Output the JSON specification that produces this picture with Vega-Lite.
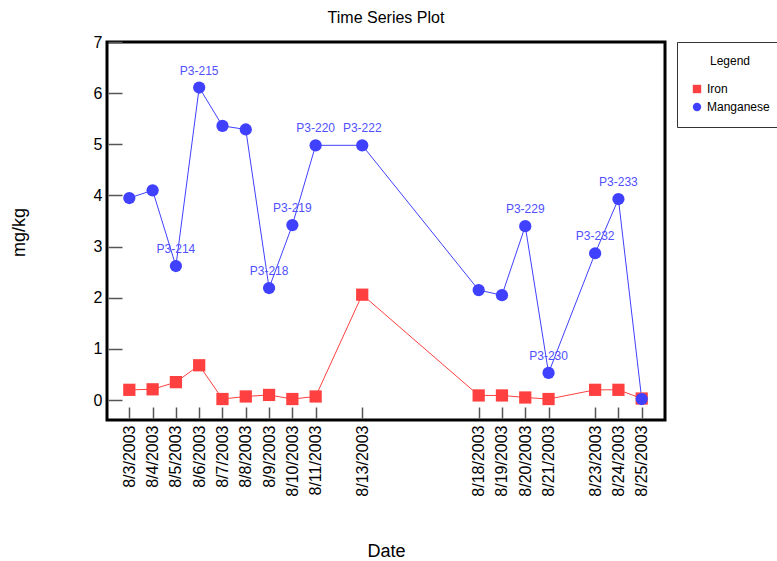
{
  "$schema": "https://vega.github.io/schema/vega-lite/v6.json",
  "autosize": "none",
  "width": 558,
  "height": 378,
  "padding": {"left": 107, "top": 42, "right": 112, "bottom": 141},
  "background": "white",
  "title": {"text": "Time Series Plot", "fontSize": 16, "font": "Liberation Sans", "fontWeight": "normal", "color": "#000", "anchor": "middle", "offset": 8},
  "config": {
    "view": {"stroke": "#000", "strokeWidth": 3},
    "font": "Liberation Sans",
    "axis": {"grid": false, "domain": false, "labelFont": "Liberation Sans", "titleFont": "Liberation Sans", "labelColor": "#000", "titleColor": "#000", "titleFontWeight": "normal", "tickColor": "#555", "tickWidth": 1.5}
  },
  "data": {
    "values": [
      {"date": "2003-08-03", "element": "Iron", "value": 0.2},
      {"date": "2003-08-04", "element": "Iron", "value": 0.21},
      {"date": "2003-08-05", "element": "Iron", "value": 0.35},
      {"date": "2003-08-06", "element": "Iron", "value": 0.68},
      {"date": "2003-08-07", "element": "Iron", "value": 0.02},
      {"date": "2003-08-08", "element": "Iron", "value": 0.07},
      {"date": "2003-08-09", "element": "Iron", "value": 0.1},
      {"date": "2003-08-10", "element": "Iron", "value": 0.02},
      {"date": "2003-08-11", "element": "Iron", "value": 0.07},
      {"date": "2003-08-13", "element": "Iron", "value": 2.06},
      {"date": "2003-08-18", "element": "Iron", "value": 0.09},
      {"date": "2003-08-19", "element": "Iron", "value": 0.09},
      {"date": "2003-08-20", "element": "Iron", "value": 0.05},
      {"date": "2003-08-21", "element": "Iron", "value": 0.02},
      {"date": "2003-08-23", "element": "Iron", "value": 0.2},
      {"date": "2003-08-24", "element": "Iron", "value": 0.2},
      {"date": "2003-08-25", "element": "Iron", "value": 0.03},
      {"date": "2003-08-03", "element": "Manganese", "value": 3.95},
      {"date": "2003-08-04", "element": "Manganese", "value": 4.1},
      {"date": "2003-08-05", "element": "Manganese", "value": 2.62, "label": "P3-214"},
      {"date": "2003-08-06", "element": "Manganese", "value": 6.11, "label": "P3-215"},
      {"date": "2003-08-07", "element": "Manganese", "value": 5.36},
      {"date": "2003-08-08", "element": "Manganese", "value": 5.29},
      {"date": "2003-08-09", "element": "Manganese", "value": 2.19, "label": "P3-218"},
      {"date": "2003-08-10", "element": "Manganese", "value": 3.42, "label": "P3-219"},
      {"date": "2003-08-11", "element": "Manganese", "value": 4.98, "label": "P3-220"},
      {"date": "2003-08-13", "element": "Manganese", "value": 4.98, "label": "P3-222"},
      {"date": "2003-08-18", "element": "Manganese", "value": 2.15},
      {"date": "2003-08-19", "element": "Manganese", "value": 2.05},
      {"date": "2003-08-20", "element": "Manganese", "value": 3.4, "label": "P3-229"},
      {"date": "2003-08-21", "element": "Manganese", "value": 0.53, "label": "P3-230"},
      {"date": "2003-08-23", "element": "Manganese", "value": 2.87, "label": "P3-232"},
      {"date": "2003-08-24", "element": "Manganese", "value": 3.93, "label": "P3-233"},
      {"date": "2003-08-25", "element": "Manganese", "value": 0.02}
    ]
  },
  "encoding": {
    "x": {
      "field": "date", "type": "temporal",
      "scale": {"type": "utc", "domain": [{"year": 2003, "month": 8, "date": 2, "hours": 1, "utc": true}, {"year": 2003, "month": 8, "date": 26, "hours": 0, "utc": true}]},
      "axis": {
        "title": "Date", "titleFontSize": 18, "titleX": 279, "titleY": 144, "titleBaseline": "middle", "titleAlign": "center",
        "offset": -13, "tickSize": 11, "labelPadding": 7, "labelAngle": -90, "labelFontSize": 16, "format": "%-m/%-d/%Y", "labelOverlap": false, "labelBound": false, "labelFlush": false,
        "values": [
          {"year": 2003, "month": 8, "date": 3, "utc": true},
          {"year": 2003, "month": 8, "date": 4, "utc": true},
          {"year": 2003, "month": 8, "date": 5, "utc": true},
          {"year": 2003, "month": 8, "date": 6, "utc": true},
          {"year": 2003, "month": 8, "date": 7, "utc": true},
          {"year": 2003, "month": 8, "date": 8, "utc": true},
          {"year": 2003, "month": 8, "date": 9, "utc": true},
          {"year": 2003, "month": 8, "date": 10, "utc": true},
          {"year": 2003, "month": 8, "date": 11, "utc": true},
          {"year": 2003, "month": 8, "date": 13, "utc": true},
          {"year": 2003, "month": 8, "date": 18, "utc": true},
          {"year": 2003, "month": 8, "date": 19, "utc": true},
          {"year": 2003, "month": 8, "date": 20, "utc": true},
          {"year": 2003, "month": 8, "date": 21, "utc": true},
          {"year": 2003, "month": 8, "date": 23, "utc": true},
          {"year": 2003, "month": 8, "date": 24, "utc": true},
          {"year": 2003, "month": 8, "date": 25, "utc": true}
        ]
      }
    },
    "y": {
      "field": "value", "type": "quantitative",
      "scale": {"domain": [-0.39, 7], "nice": false, "zero": false},
      "axis": {
        "title": "mg/kg", "titleFontSize": 18, "titleX": -103, "titleY": 190, "titleBaseline": "middle", "titleAlign": "center", "titleAngle": -90,
        "offset": -15, "tickSize": 14, "labelPadding": 6, "labelFontSize": 16, "values": [0, 1, 2, 3, 4, 5, 6, 7], "labelFlush": false, "labelBound": false, "labelOverlap": false
      }
    },
    "color": {
      "field": "element", "type": "nominal",
      "scale": {"domain": ["Iron", "Manganese"], "range": ["#ff4040", "#4040ff"]},
      "legend": {"title": "Legend", "orient": "none", "legendX": 570, "legendY": 0, "titleAnchor": "middle", "titleFontSize": 12, "titleFontWeight": "normal", "titleColor": "#000", "titleFont": "Liberation Sans", "labelFontSize": 12, "labelFont": "Liberation Sans", "labelColor": "#000", "strokeColor": "#333", "fillColor": "white", "padding": 14, "titlePadding": 15, "rowPadding": 6, "symbolSize": 70, "labelOffset": 4, "symbolStrokeWidth": 0}
    }
  },
  "layer": [
    {"mark": {"type": "line", "strokeWidth": 1}},
    {
      "mark": {"type": "point", "filled": true, "opacity": 1, "size": 150},
      "encoding": {
        "shape": {"field": "element", "type": "nominal", "scale": {"domain": ["Iron", "Manganese"], "range": ["square", "circle"]},
          "legend": {"title": "Legend", "orient": "none", "legendX": 570, "legendY": 0, "titleAnchor": "middle", "titleFontSize": 12, "titleFontWeight": "normal", "titleColor": "#000", "titleFont": "Liberation Sans", "labelFontSize": 12, "labelFont": "Liberation Sans", "labelColor": "#000", "strokeColor": "#333", "fillColor": "white", "padding": 14, "titlePadding": 15, "rowPadding": 6, "symbolSize": 70, "labelOffset": 4, "symbolStrokeWidth": 0}}
      }
    },
    {
      "transform": [{"filter": "datum.label != null"}],
      "mark": {"type": "text", "dy": -17, "fontSize": 12, "font": "Liberation Sans", "color": "#5050ff"},
      "encoding": {"text": {"field": "label", "type": "nominal"}, "color": {"value": "#5050ff"}}
    }
  ]
}
